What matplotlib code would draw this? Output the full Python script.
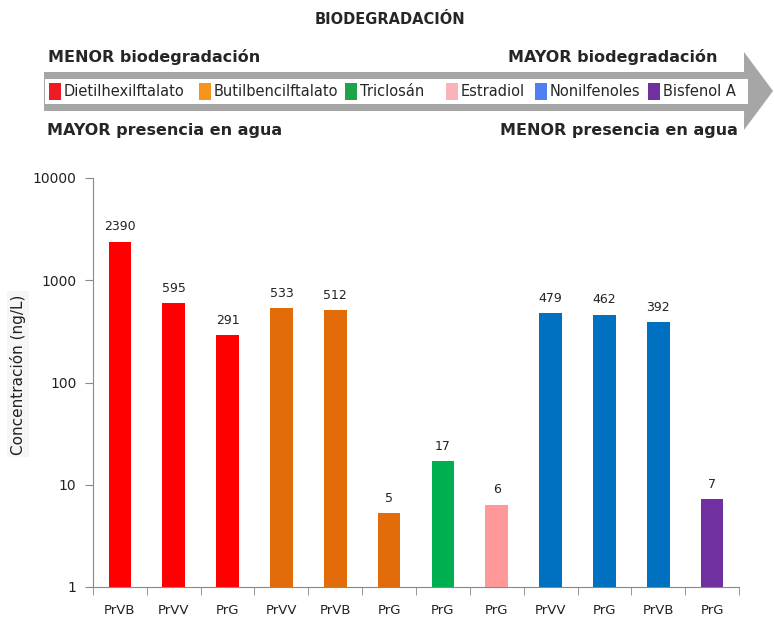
import numpy as np
import matplotlib; matplotlib.use("Agg")
import matplotlib.pyplot as plt
from matplotlib.patches import Polygon, Rectangle

# ── data ──────────────────────────────────────────────────────────────
sites = ["PrVB", "PrVV", "PrG", "PrVV", "PrVB", "PrG", "PrG", "PrG",
         "PrVV", "PrG", "PrVB", "PrG"]
conc = [2390, 595, 291, 533, 512, 5.3, 17, 6.4, 479, 462, 392, 7.2]
bar_labels = ["2390", "595", "291", "533", "512", "5", "17", "6",
              "479", "462", "392", "7"]
compound = ["Dietilhexilftalato"] * 3 + ["Butilbencilftalato"] * 3 + \
           ["Triclosán", "Estradiol"] + ["Nonilfenoles"] * 3 + ["Bisfenol A"]

legend_names = ["Dietilhexilftalato", "Butilbencilftalato", "Triclosán",
                "Estradiol", "Nonilfenoles", "Bisfenol A"]
bar_colors = {"Dietilhexilftalato": "#FF0000", "Butilbencilftalato": "#E36C0A",
              "Triclosán": "#00B050", "Estradiol": "#FF9999",
              "Nonilfenoles": "#0070C0", "Bisfenol A": "#7030A0"}
legend_colors = {"Dietilhexilftalato": "#ED1C24", "Butilbencilftalato": "#F7941D",
                 "Triclosán": "#1FA34A", "Estradiol": "#F9B4BA",
                 "Nonilfenoles": "#4F7FF0", "Bisfenol A": "#70309F"}

W, H = 774, 621
fig = plt.figure(figsize=(W / 100, H / 100), dpi=100)
fig.patch.set_facecolor("white")

# ── header (pixel coordinates) ───────────────────────────────────────
hd = fig.add_axes([0, 0, 1, 1])
hd.set_xlim(0, W); hd.set_ylim(H, 0); hd.axis("off")
hd.add_patch(Polygon([(44, 72), (744, 72), (744, 52), (773, 91),
                      (744, 130), (744, 111), (44, 111)],
                     closed=True, facecolor="#a6a6a6", edgecolor="none"))
hd.add_patch(Rectangle((45, 79), 703, 25, facecolor="white", edgecolor="none"))

hfont = "DejaVu Sans"
hc = "#262626"
hd.text(390, 20, "BIODEGRADACIÓN", ha="center", va="center", fontsize=10.5,
        fontweight="bold", color=hc, family=hfont)
hd.text(48, 57, "MENOR biodegradación", ha="left", va="center", fontsize=11.5,
        fontweight="bold", color=hc, family=hfont)
hd.text(717, 57, "MAYOR biodegradación", ha="right", va="center", fontsize=11.5,
        fontweight="bold", color=hc, family=hfont)
hd.text(47, 131, "MAYOR presencia en agua", ha="left", va="center", fontsize=11.5,
        fontweight="bold", color=hc, family=hfont)
hd.text(738, 131, "MENOR presencia en agua", ha="right", va="center", fontsize=11.5,
        fontweight="bold", color=hc, family=hfont)

lx = [49, 199, 345, 446, 535, 648]
for x, name in zip(lx, legend_names):
    hd.add_patch(Rectangle((x, 83), 12, 17, facecolor=legend_colors[name],
                           edgecolor="none"))
    hd.text(x + 15, 92, name, ha="left", va="center", fontsize=10.5,
            color=hc, family=hfont)

# ── bar chart ────────────────────────────────────────────────────────
ax = fig.add_axes([93 / W, 1 - 587 / H, 646 / W, 409 / H])
x = np.arange(len(sites))
cols = [bar_colors[c] for c in compound]
ax.bar(x, conc, width=0.42, color=cols, bottom=0)
ax.set_yscale("log")
ax.set_ylim(1, 10000)
ax.set_xlim(-0.5, len(sites) - 0.5)

for xi, v, lab in zip(x, conc, bar_labels):
    ax.text(xi, v * 1.2, lab, ha="center", va="bottom", fontsize=9,
            color="#222222")

ax.set_yticks([1, 10, 100, 1000, 10000])
ax.set_yticklabels(["1", "10", "100", "1000", "10000"])
ax.minorticks_off()
ax.set_xticks(x)
ax.set_xticklabels(sites)
ax.set_xticks(np.arange(-0.5, len(sites)), minor=True)
ax.tick_params(axis="x", which="major", length=0, pad=12, labelsize=9.5,
               labelcolor="#222222")
ax.tick_params(axis="x", which="minor", length=6, color="#888888", direction="out")
ax.tick_params(axis="y", which="major", length=6, color="#888888", labelsize=10,
               labelcolor="#222222", pad=6)
for s in ["top", "right"]:
    ax.spines[s].set_visible(False)
for s in ["left", "bottom"]:
    ax.spines[s].set_color("#888888")

ax.set_ylabel("Concentración (ng/L)", fontsize=11, color="#222222",
              bbox=dict(facecolor="#f6f6f6", edgecolor="none", pad=2))
ax.yaxis.set_label_coords(-67 / 646, 0.52)

fig.savefig("out.png", dpi=100, facecolor="white")
plt.close(fig)
